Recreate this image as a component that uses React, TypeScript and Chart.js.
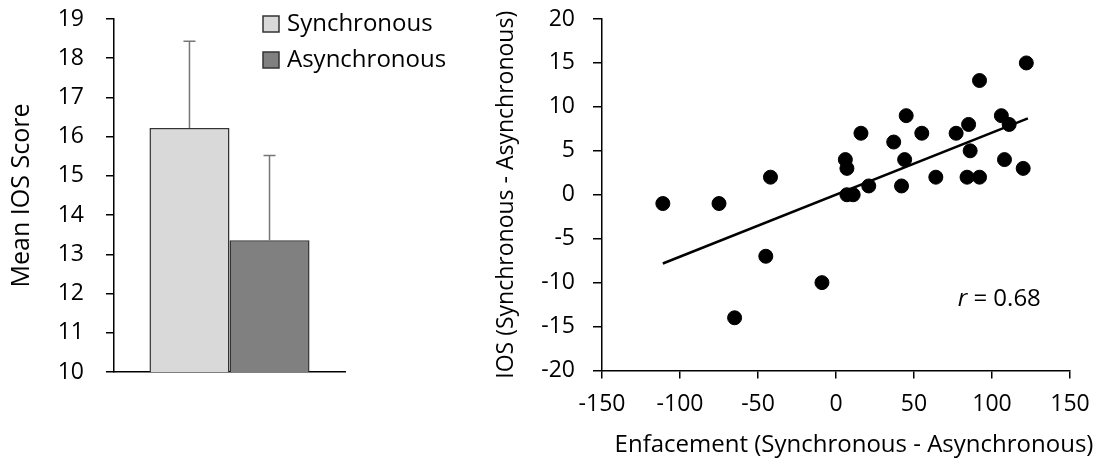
import React, { useEffect, useRef } from 'react';
import { Chart, registerables } from 'chart.js';

Chart.register(...registerables);

const FONT = "'Open Sans', sans-serif";

// ---- Left chart data ----
const barCategories = [''];
const barSeriesNames = ['Synchronous', 'Asynchronous'];
const barMeans = [16.22, 13.36];
const barErrors = [2.21, 2.16];
const barColors = ['#d9d9d9', '#808080'];
const barYMin = 10;
const barYMax = 19;
const barYStep = 1;
const barYTitle = 'Mean IOS Score';

// ---- Right chart data ----
const enfacement = [-111, -75, -42, 6, 7, 7, 11, 16, 21, 37, 45, 44, 42, 55, 64, 77, 85, 86, 84, 92, 92, 106, 111, 108, 122, 120, -45, -9, -65];
const iosDiff = [-1, -1, 2, 4, 3, 0, 0, 7, 1, 6, 9, 4, 1, 7, 2, 7, 8, 5, 2, 2, 13, 9, 8, 4, 15, 3, -7, -10, -14];
const trendX = [-111, 123];
const trendY = [-7.82, 8.69];
const scatterXMin = -150;
const scatterXMax = 150;
const scatterXStep = 50;
const scatterYMin = -20;
const scatterYMax = 20;
const scatterYStep = 5;
const scatterXTitle = 'Enfacement (Synchronous - Asynchronous)';
const scatterYTitle = 'IOS (Synchronous - Asynchronous)';
const rValue = '0.68';
const rLabelPos = [78, -11.9];

const errorBarPlugin = {
  id: 'errorBars',
  afterDatasetsDraw(chart: any) {
    const { ctx } = chart;
    const yScale = chart.scales.y;
    chart.data.datasets.forEach((ds: any, i: number) => {
      const meta = chart.getDatasetMeta(i);
      meta.data.forEach((bar: any, j: number) => {
        const v = ds.data[j];
        const yTop = yScale.getPixelForValue(v + barErrors[i]);
        ctx.save();
        ctx.strokeStyle = '#767676';
        ctx.lineWidth = 1.5;
        ctx.beginPath();
        ctx.moveTo(bar.x, bar.y);
        ctx.lineTo(bar.x, yTop);
        ctx.moveTo(bar.x - 6, yTop);
        ctx.lineTo(bar.x + 6, yTop);
        ctx.stroke();
        ctx.restore();
      });
    });
  },
};

const legendPlugin = {
  id: 'customLegend',
  afterDraw(chart: any) {
    const { ctx, chartArea } = chart;
    const bx = chartArea.left + 149;
    const rows = [16, 52];
    chart.data.datasets.forEach((ds: any, i: number) => {
      const y = rows[i];
      ctx.save();
      ctx.fillStyle = ds.backgroundColor;
      ctx.fillRect(bx, y, 16, 16);
      ctx.strokeStyle = '#333333';
      ctx.lineWidth = 1.5;
      ctx.strokeRect(bx, y, 16, 16);
      ctx.fillStyle = '#000';
      ctx.font = `24px ${FONT}`;
      ctx.textBaseline = 'middle';
      ctx.textAlign = 'left';
      ctx.fillText(ds.label, bx + 24, y + 8);
      ctx.restore();
    });
  },
};

const scatterTextPlugin = {
  id: 'scatterText',
  afterDraw(chart: any) {
    const { ctx, chartArea } = chart;
    const xs = chart.scales.x;
    const ys = chart.scales.y;
    ctx.save();
    ctx.fillStyle = '#000';
    // x axis title
    ctx.font = `24px ${FONT}`;
    ctx.textAlign = 'center';
    ctx.textBaseline = 'middle';
    ctx.fillText(scatterXTitle, (chartArea.left + chartArea.right) / 2 + 18, 445);
    // r label
    const px = xs.getPixelForValue(rLabelPos[0]);
    const py = ys.getPixelForValue(rLabelPos[1]);
    ctx.textAlign = 'left';
    ctx.font = `italic 24px ${FONT}`;
    ctx.fillText('r', px, py);
    const w = ctx.measureText('r').width;
    ctx.font = `24px ${FONT}`;
    ctx.fillText(' = ' + rValue, px + w, py);
    ctx.restore();
  },
};

export default function App() {
  const leftRef = useRef<HTMLCanvasElement>(null);
  const rightRef = useRef<HTMLCanvasElement>(null);

  useEffect(() => {
    Chart.defaults.font.family = FONT;
    Chart.defaults.color = '#000';

    const left = new Chart(leftRef.current!, {
      type: 'bar',
      data: {
        labels: barCategories,
        datasets: barSeriesNames.map((name, i) => ({
          label: name,
          data: [barMeans[i]],
          backgroundColor: barColors[i],
          borderColor: '#333333',
          borderWidth: 1.5,
          barPercentage: 1,
          categoryPercentage: 0.693,
        })),
      },
      options: {
        responsive: false,
        animation: false,
        layout: { padding: { top: 19, right: 115, left: 0, bottom: 0 } },
        plugins: { legend: { display: false }, tooltip: { enabled: false } },
        scales: {
          x: {
            grid: { display: false },
            ticks: { display: false },
            border: { display: true, color: '#000', width: 1.5 },
            afterFit: (s: any) => { s.height = 95; s.paddingLeft = 0; s.paddingRight = 0; },
          },
          y: {
            min: barYMin,
            max: barYMax,
            ticks: { stepSize: barYStep, padding: 22, font: { size: 23 }, color: '#000' },
            grid: { display: true, drawOnChartArea: false, drawTicks: true, tickLength: 8, color: '#000', lineWidth: 1.5 },
            border: { display: true, color: '#000', width: 1.5 },
            title: { display: true, text: barYTitle, font: { size: 25 }, padding: { top: 7, bottom: 0 }, color: '#000' },
            afterFit: (s: any) => { s.width = 114; s.paddingTop = 0; s.paddingBottom = 0; },
          },
        },
      },
      plugins: [errorBarPlugin, legendPlugin],
    } as any);

    const right = new Chart(rightRef.current!, {
      type: 'scatter',
      data: {
        datasets: [
          {
            type: 'line',
            label: 'trend',
            data: trendX.map((x, i) => ({ x, y: trendY[i] })),
            borderColor: '#000',
            borderWidth: 2.5,
            pointRadius: 0,
            fill: false,
            order: 2,
          },
          {
            label: 'points',
            data: enfacement.map((x, i) => ({ x, y: iosDiff[i] })),
            backgroundColor: '#000',
            borderColor: '#000',
            pointRadius: 7,
            order: 1,
          },
        ],
      },
      options: {
        responsive: false,
        animation: false,
        layout: { padding: { top: 19, right: 35, left: 0, bottom: 0 } },
        plugins: { legend: { display: false }, tooltip: { enabled: false } },
        scales: {
          x: {
            type: 'linear',
            min: scatterXMin,
            max: scatterXMax,
            ticks: { stepSize: scatterXStep, padding: 12, font: { size: 23 }, color: '#000' },
            grid: { display: true, drawOnChartArea: false, drawTicks: true, tickLength: 8, color: '#000', lineWidth: 1.5 },
            border: { display: true, color: '#000', width: 1.5 },
            afterFit: (s: any) => { s.height = 96.5; s.paddingLeft = 0; s.paddingRight = 0; },
          },
          y: {
            min: scatterYMin,
            max: scatterYMax,
            ticks: { stepSize: scatterYStep, padding: 18, font: { size: 23 }, color: '#000' },
            grid: { display: true, drawOnChartArea: false, drawTicks: true, tickLength: 9, color: '#000', lineWidth: 1.5 },
            border: { display: true, color: '#000', width: 1.5 },
            title: { display: true, text: scatterYTitle, font: { size: 23 }, padding: { top: 33, bottom: 0 }, color: '#000' },
            afterFit: (s: any) => { s.width = 142; s.paddingTop = 0; s.paddingBottom = 0; },
          },
        },
      },
      plugins: [scatterTextPlugin],
    } as any);

    return () => {
      left.destroy();
      right.destroy();
    };
  }, []);

  return (
    <div style={{ position: 'absolute', left: 0, top: 0, width: 1105, height: 467, background: '#fff' }}>
      <canvas ref={leftRef} width={460} height={467} style={{ position: 'absolute', left: 0, top: 0 }} />
      <canvas ref={rightRef} width={645} height={467} style={{ position: 'absolute', left: 460, top: 0 }} />
    </div>
  );
}
